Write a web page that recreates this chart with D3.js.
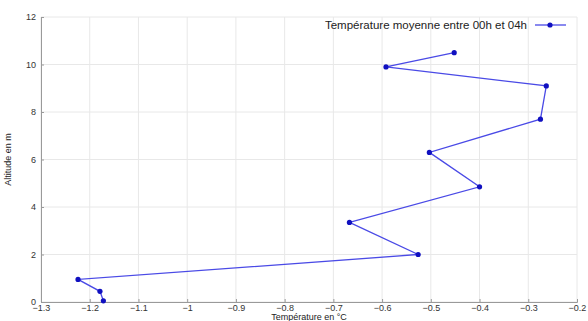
<!DOCTYPE html>
<html>
<head>
<meta charset="utf-8">
<script src="https://cdn.jsdelivr.net/npm/d3@7"></script>
<style>
  body { margin: 0; background: #fff; }
  svg { font-family: "Liberation Sans", Arial, sans-serif; }
</style>
</head>
<body>
<div id="chart"></div>
<script>
// temperature (°C) vs altitude (m), from the ground up
const temperatures = [-1.172, -1.179, -1.224, -0.526, -0.667, -0.40, -0.503, -0.275, -0.263, -0.592, -0.452];
const altitudes = [0.05, 0.45, 0.95, 2.0, 3.35, 4.85, 6.3, 7.7, 9.1, 9.9, 10.5];
const xTicks = [-1.3, -1.2, -1.1, -1, -0.9, -0.8, -0.7, -0.6, -0.5, -0.4, -0.3, -0.2];
const yTicks = [0, 2, 4, 6, 8, 10, 12];
const seriesName = "Température moyenne entre 00h et 04h";

const width = 588, height = 321;
const margin = { top: 17, right: 11, bottom: 19, left: 41 };
const innerW = width - margin.left - margin.right;
const innerH = height - margin.top - margin.bottom;

const data = temperatures.map((t, i) => ({ t: t, alt: altitudes[i] }));

const svg = d3.select("#chart").append("svg")
  .attr("width", width)
  .attr("height", height);

const g = svg.append("g").attr("transform", `translate(${margin.left},${margin.top})`);

const xScale = d3.scaleLinear().domain([-1.3, -0.2]).range([0, innerW]);
const yScale = d3.scaleLinear().domain([0, 12]).range([innerH, 0]);

// grid
g.append("g")
  .attr("class", "grid")
  .selectAll("line.gx")
  .data(xTicks)
  .join("line")
  .attr("x1", (d) => xScale(d))
  .attr("x2", (d) => xScale(d))
  .attr("y1", 0)
  .attr("y2", innerH)
  .attr("stroke", "#e8e8e8")
  .attr("stroke-width", 1);

g.append("g")
  .attr("class", "grid")
  .selectAll("line.gy")
  .data(yTicks)
  .join("line")
  .attr("x1", 0)
  .attr("x2", innerW)
  .attr("y1", (d) => yScale(d))
  .attr("y2", (d) => yScale(d))
  .attr("stroke", "#e8e8e8")
  .attr("stroke-width", 1);

// axes
const xAxis = g.append("g")
  .attr("transform", `translate(0,${innerH})`)
  .call(d3.axisBottom(xScale).tickValues(xTicks).tickSize(-3).tickPadding(4).tickFormat((d) => d3.format("")(+d.toFixed(1))));
const yAxis = g.append("g")
  .call(d3.axisLeft(yScale).tickValues(yTicks).tickSize(-3).tickPadding(5));

[xAxis, yAxis].forEach((ax) => {
  ax.select(".domain").attr("stroke", "#9a9a9a");
  ax.selectAll(".tick line").attr("stroke", "#9a9a9a");
  ax.selectAll(".tick text")
    .attr("fill", "#333")
    .style("font-size", "9px")
    .style("font-family", "Liberation Sans, Arial, sans-serif");
});
xAxis.selectAll(".tick text").attr("dy", "0.6em");

// axis titles
svg.append("text")
  .attr("x", margin.left + innerW / 2)
  .attr("y", 320)
  .attr("text-anchor", "middle")
  .attr("fill", "#222")
  .style("font-size", "9px")
  .text("Température en °C");

svg.append("text")
  .attr("transform", `translate(11,${margin.top + innerH / 2}) rotate(-90)`)
  .attr("text-anchor", "middle")
  .attr("fill", "#222")
  .style("font-size", "9px")
  .text("Altitude en m");

// series
const line = d3.line()
  .x((d) => xScale(d.t))
  .y((d) => yScale(d.alt));

g.append("path")
  .datum(data)
  .attr("fill", "none")
  .attr("stroke", "#4a4ae6")
  .attr("stroke-width", 1.3)
  .attr("d", line);

g.selectAll(".pt")
  .data(data)
  .join("circle")
  .attr("class", "pt")
  .attr("cx", (d) => xScale(d.t))
  .attr("cy", (d) => yScale(d.alt))
  .attr("r", 2.6)
  .attr("fill", "#1010c0");

// legend
const legend = svg.append("g").attr("transform", "translate(0,25)");
legend.append("text")
  .attr("x", 527)
  .attr("y", 0)
  .attr("dy", "0.35em")
  .attr("text-anchor", "end")
  .attr("fill", "#222")
  .style("font-size", "11.5px")
  .text(seriesName);
legend.append("line")
  .attr("x1", 535).attr("x2", 566)
  .attr("y1", 0).attr("y2", 0)
  .attr("stroke", "#4a4ae6")
  .attr("stroke-width", 1.3);
legend.append("circle")
  .attr("cx", 550).attr("cy", 0).attr("r", 2.6)
  .attr("fill", "#1010c0");
</script>
</body>
</html>
